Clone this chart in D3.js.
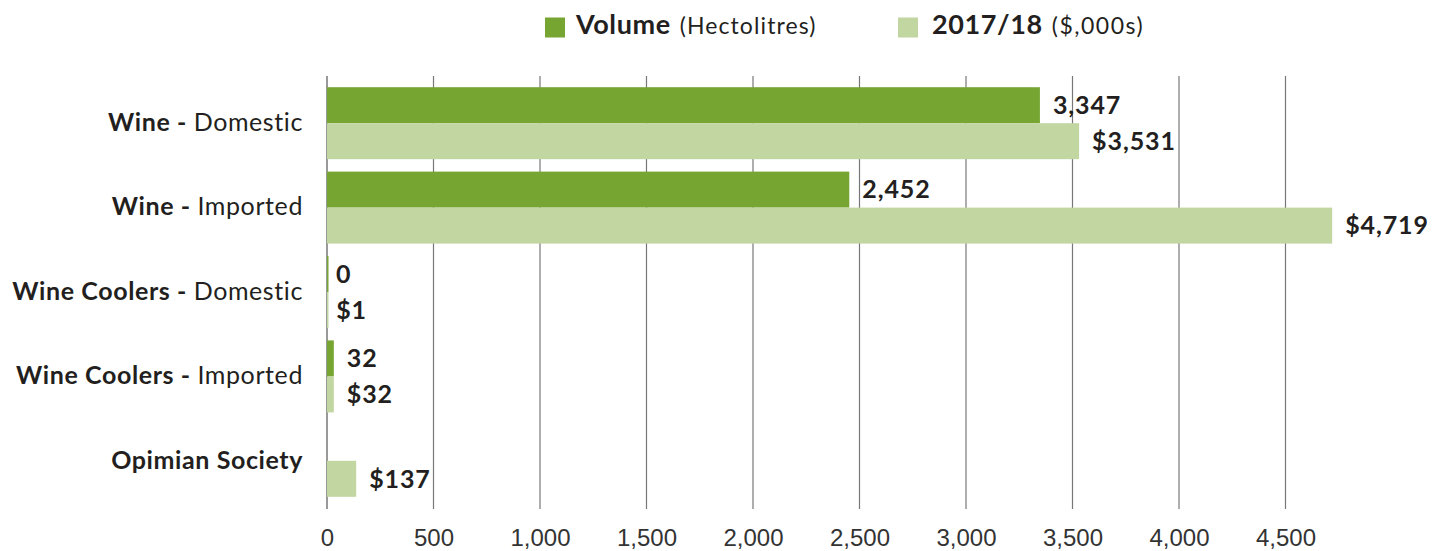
<!DOCTYPE html>
<html><head><meta charset="utf-8">
<script src="https://cdn.jsdelivr.net/npm/d3@7"></script>
<style>body{margin:0;background:#fff;}</style>
</head><body>
<svg id="chart" width="1435" height="551"></svg>
<script>
const categories = ["Wine|Domestic","Wine|Imported","Wine Coolers|Domestic","Wine Coolers|Imported","Opimian Society|"];
const volume = [3347, 2452, 0, 32, null];
const value2017 = [3531, 4719, 1, 32, 137];
const ticks = [0,500,1000,1500,2000,2500,3000,3500,4000,4500];
const seriesNames = ["Volume","2017/18"];
const seriesUnits = ["(Hectolitres)","($,000s)"];

const dark = "#76a531", light = "#c2d6a2", ink = "#231f20";
const svg = d3.select("#chart");
const x = d3.scaleLinear().domain([0,4500]).range([327,1285.5]);
const y = d3.scaleBand().domain(categories).range([81,503]).paddingInner(0.147).paddingOuter(0.0735);
const sub = d3.scaleBand().domain([0,1]).range([0,y.bandwidth()]);

// gridlines
svg.append("g").selectAll("line").data(ticks).join("line")
  .attr("x1",d=>x(d)).attr("x2",d=>x(d)).attr("y1",76).attr("y2",509)
  .attr("stroke",d=>d===0?"#555":"#777").attr("stroke-width",1.2);

// axis labels
const ax = svg.append("g").attr("transform","translate(0,509)")
  .call(d3.axisBottom(x).tickValues(ticks).tickFormat(d3.format(",")).tickSize(0).tickPadding(20));
ax.select(".domain").remove();
ax.selectAll("text").attr("font-family","Liberation Sans, Arial, sans-serif").attr("font-size",24).attr("fill","#333");

const fmtV = d3.format(","), fmtD = d=>"$"+d3.format(",")(d);
const series = [{vals:volume,color:dark,fmt:fmtV},{vals:value2017,color:light,fmt:fmtD}];
series.forEach((s,si)=>{
  const g = svg.append("g");
  categories.forEach((c,i)=>{
    const v = s.vals[i];
    if(v===null) return;
    const y0 = y(c)+sub(si);
    g.append("rect").attr("x",x(0)).attr("y",y0).attr("width",Math.max(x(v)-x(0), 1.5)).attr("height",sub.bandwidth()).attr("fill",s.color);
    g.append("text").attr("x",x(v)+(v<5?9:13)).attr("y",y0+sub.bandwidth()/2).attr("dy","0.35em")
      .attr("font-family","Lato, sans-serif").attr("font-weight","bold").attr("font-size",25)
      .attr("letter-spacing",0.9).attr("fill",ink)
      .text(s.fmt(v));
  });
});

// category labels
categories.forEach((c,i)=>{
  const [b,r] = c.split("|");
  const t = svg.append("text").attr("x",303).attr("y",y(c)+y.bandwidth()/2 - 1).attr("dy","0.35em")
    .attr("text-anchor","end").attr("font-family","Lato, sans-serif").attr("font-size",25)
    .attr("letter-spacing",0.6).attr("fill",ink);
  t.append("tspan").attr("font-weight","bold").text(r? b+" - " : b);
  if(r) t.append("tspan").text(r);
});

// legend
const lx = [545, 898], tx = [576, 932];
seriesNames.forEach((n,i)=>{
  svg.append("rect").attr("x",lx[i]).attr("y",17.5).attr("width",20).attr("height",20).attr("fill",i===0?dark:light);
  const t = svg.append("text").attr("x",tx[i]).attr("y",28).attr("dy","0.35em")
    .attr("font-family","Lato, sans-serif").attr("fill",ink);
  t.append("tspan").attr("font-weight","bold").attr("font-size",27).attr("letter-spacing",0.6).text(n);
  t.append("tspan").attr("font-size",23).attr("letter-spacing",i===0?1.1:1.5).attr("dx",9).text(seriesUnits[i]);
});
</script>
</body></html>
